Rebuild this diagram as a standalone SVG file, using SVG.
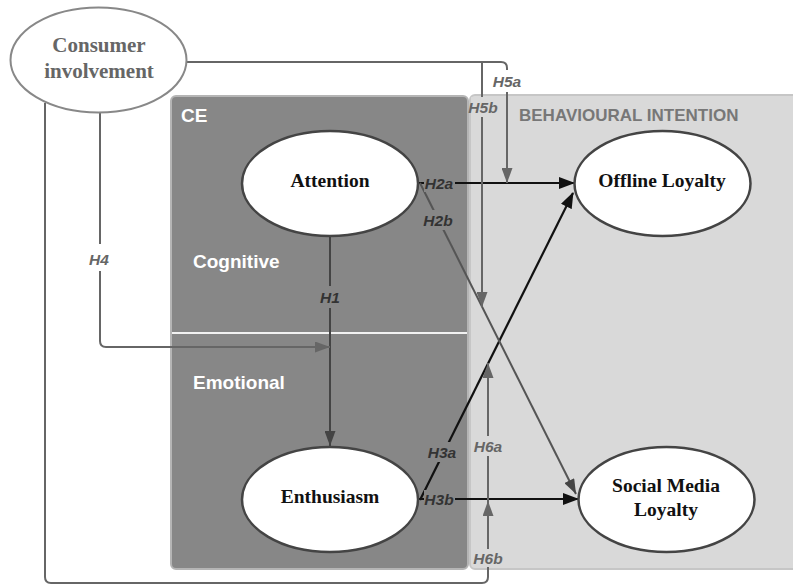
<svg xmlns="http://www.w3.org/2000/svg" width="793" height="585" viewBox="0 0 793 585">
<style>
.node{fill:#fff;stroke:#444;stroke-width:2.5}
.nt{font-family:"Liberation Serif",serif;font-weight:bold;font-size:19.5px;fill:#111;text-anchor:middle}
.ci{fill:#fff;stroke:#888;stroke-width:2}
.cit{font-family:"Liberation Serif",serif;font-weight:bold;font-size:21px;fill:#666;text-anchor:middle}
.sec{font-family:"Liberation Sans",Arial,sans-serif;font-weight:bold;font-size:19px;fill:#fff}
.hl{font-family:"Liberation Sans",Arial,sans-serif;font-weight:bold;font-style:italic;font-size:15.5px;text-anchor:middle;dominant-baseline:central}
.dk{fill:#333}
.gr{fill:#666}
.c{fill:none}
.blk{stroke:#111;stroke-width:2.2}
.dgr{stroke:#444;stroke-width:2}
.mgr{stroke:#666;stroke-width:2}
</style>
<defs>
<marker id="aBlk" markerUnits="userSpaceOnUse" markerWidth="16" markerHeight="12" refX="15" refY="6" orient="auto"><path d="M0,0 L16,6 L0,12 z" fill="#111"/></marker>
<marker id="aDgr" markerUnits="userSpaceOnUse" markerWidth="15" markerHeight="11" refX="15" refY="5.5" orient="auto"><path d="M0,0 L15,5.5 L0,11 z" fill="#444"/></marker>
<marker id="aGr" markerUnits="userSpaceOnUse" markerWidth="15" markerHeight="11" refX="15" refY="5.5" orient="auto"><path d="M0,0 L15,5.5 L0,11 z" fill="#666"/></marker>
</defs>
<rect width="793" height="585" fill="#fff"/>
<g id="ce-box">
<rect x="171" y="96" width="297" height="473" rx="5" fill="#878787" stroke="#b5b5b5" stroke-width="2"/>
<line x1="172" y1="333" x2="467" y2="333" stroke="#f2f2f2" stroke-width="2"/>
<text class="sec" x="181" y="122" font-size="18px">CE</text>
<text class="sec" x="193" y="268">Cognitive</text>
<text class="sec" x="193" y="389">Emotional</text>
</g>
<g id="bi-box">
<rect x="470" y="95" width="330" height="474" rx="5" fill="#d9d9d9" stroke="#c6c6c6" stroke-width="2"/>
<text x="519" y="121" font-family="Liberation Sans, Arial, sans-serif" font-weight="bold" font-size="17px" fill="#777">BEHAVIOURAL INTENTION</text>
</g>
<g id="connectors">
<path class="c blk" d="M418,183 H574" marker-end="url(#aBlk)"/>
<path class="c blk" d="M420,500 L573,193" marker-end="url(#aBlk)"/>
<path class="c blk" d="M418,499 H578" marker-end="url(#aBlk)"/>
<path class="c" stroke="#555" stroke-width="2" d="M420,183 L576,494" marker-end="url(#aDgr)"/>
<path class="c dgr" d="M330,236 V446" marker-end="url(#aDgr)"/>
<path class="c mgr" d="M100,113 V341 Q100,347 106,347 H330" marker-end="url(#aGr)"/>
<path class="c mgr" d="M187,62 H501 Q507,62 507,68 V183" marker-end="url(#aGr)"/>
<path class="c mgr" d="M482,62 V307" marker-end="url(#aGr)"/>
<path class="c mgr" d="M45,103 V577 Q45,583 51,583 H482 Q488,583 488,577 V501" marker-end="url(#aGr)"/>
<path class="c mgr" d="M488,501 V363" marker-end="url(#aGr)"/>
<rect x="321" y="286" width="18" height="22" fill="#878787"/>
<text class="hl dk" x="330" y="297">H1</text>
<rect x="424" y="174" width="31" height="18" fill="#878787"/>
<text class="hl dk" x="439" y="183">H2a</text>
<rect x="423" y="210" width="31" height="20" fill="#878787"/>
<text class="hl dk" x="438" y="220">H2b</text>
<rect x="427" y="442" width="31" height="20" fill="#878787"/>
<text class="hl dk" x="442" y="452">H3a</text>
<rect x="424" y="490" width="31" height="18" fill="#878787"/>
<text class="hl dk" x="439" y="499">H3b</text>
<rect x="88" y="244" width="24" height="27" fill="#fff"/>
<text class="hl gr" x="99" y="259">H4</text>
<rect x="492" y="70" width="31" height="22" fill="#fff"/>
<text class="hl gr" x="507" y="81">H5a</text>
<rect x="471" y="97" width="27" height="20" fill="#d9d9d9"/>
<text class="hl gr" x="483" y="107">H5b</text>
<rect x="473" y="436" width="30" height="20" fill="#d9d9d9"/>
<text class="hl gr" x="488" y="446">H6a</text>
<rect x="473" y="549" width="30" height="18" fill="#d9d9d9"/>
<text class="hl gr" x="488" y="558">H6b</text>
</g>
<g id="consumer-involvement">
<ellipse class="ci" cx="98.5" cy="60" rx="88" ry="52.5"/>
<text class="cit" x="99" y="52">Consumer</text>
<text class="cit" x="99" y="78">involvement</text>
</g>
<g id="attention">
<ellipse class="node" cx="330" cy="183.5" rx="88" ry="52.5"/>
<text class="nt" x="330" y="187">Attention</text>
</g>
<g id="enthusiasm">
<ellipse class="node" cx="330" cy="499.5" rx="88" ry="52.5"/>
<text class="nt" x="330" y="503">Enthusiasm</text>
</g>
<g id="offline-loyalty">
<ellipse class="node" cx="662.5" cy="183.5" rx="88" ry="52.5"/>
<text class="nt" x="662" y="187">Offline Loyalty</text>
</g>
<g id="social-media-loyalty">
<ellipse class="node" cx="666.5" cy="499.5" rx="88" ry="52.5"/>
<text class="nt" x="666" y="492">Social Media</text>
<text class="nt" x="666" y="516">Loyalty</text>
</g>
</svg>
